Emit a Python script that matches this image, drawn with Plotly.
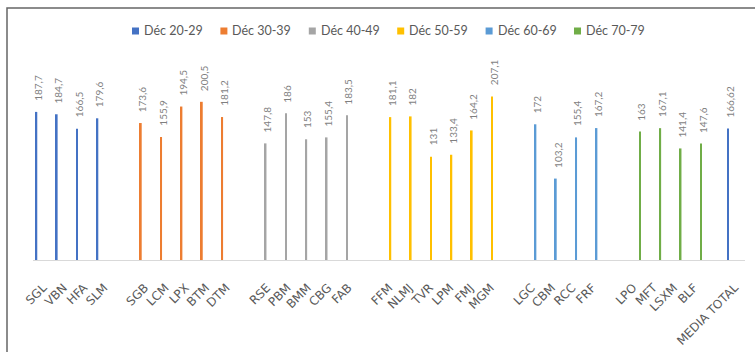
import plotly.graph_objects as go

# Heights by decade group (cm)
cats_20 = ["SGL", "VBN", "HFA", "SLM"]
vals_20 = [187.7, 184.7, 166.5, 179.6]
cats_30 = ["SGB", "LCM", "LPX", "BTM", "DTM"]
vals_30 = [173.6, 155.9, 194.5, 200.5, 181.2]
cats_40 = ["RSE", "PBM", "BMM", "CBG", "FAB"]
vals_40 = [147.8, 186, 153, 155.4, 183.5]
cats_50 = ["FFM", "NLMJ", "TVR", "LPM", "FMJ", "MGM"]
vals_50 = [181.1, 182, 131, 133.4, 164.2, 207.1]
cats_60 = ["LGC", "CBM", "RCC", "FRF"]
vals_60 = [172, 103.2, 155.4, 167.2]
cats_70 = ["LPO", "MFT", "LSXM", "BLF"]
vals_70 = [163, 167.1, 141.4, 147.6]
total_cat = "MEDIA TOTAL"
total_val = 166.62

series_names = ["Déc 20-29", "Déc 30-39", "Déc 40-49", "Déc 50-59", "Déc 60-69", "Déc 70-79"]
series_colors = ["#4472C4", "#ED7D31", "#A5A5A5", "#FFC000", "#5B9BD5", "#70AD47"]

groups_cats = [cats_20 + [total_cat], cats_30, cats_40, cats_50, cats_60, cats_70]
groups_vals = [vals_20 + [total_val], vals_30, vals_40, vals_50, vals_60, vals_70]

# Category order with an empty slot between decades
order = []
blocks = [cats_20, cats_30, cats_40, cats_50, cats_60, cats_70]
for i, b in enumerate(blocks):
    order += b
    order.append(" " * (i + 1))
order.append(total_cat)

FONT = "Lato"
L, R, T, B = 33, 10, 63, 92
W, H = 755, 352
pw, ph = W - L - R, H - T - B
BARGAP = 0.2
n_series = len(series_names)
slot = pw / len(order) * (1 - BARGAP) / n_series  # px per series slot


def fmt(v):
    return f"{v:g}".replace(".", ",")


def px_x(px):
    return (px - L) / pw


def px_y(py):
    return (H - B - py) / ph


fig = go.Figure()
annotations = []
for k, (name, color, cx, cy) in enumerate(zip(series_names, series_colors, groups_cats, groups_vals)):
    fig.add_trace(go.Bar(
        x=cx, y=cy, name=name, showlegend=False, offsetgroup=str(k),
        marker=dict(color=color, line=dict(width=0)),
    ))
    # value labels, rotated, above each bar
    for c, v in zip(cx, cy):
        annotations.append(dict(
            x=c, y=v, xref="x", yref="y", text=fmt(v), showarrow=False,
            textangle=-90, xanchor="center", yanchor="bottom",
            xshift=(k - (n_series - 1) / 2) * slot + 1.5, yshift=9,
            font=dict(family=FONT, size=10, color="#7f7f7f"),
        ))

# legend row: colour key + label for each decade
legend_left, legend_pitch, legend_y, key = 132, 88.4, 31, 7
shapes = []
for i, (name, color) in enumerate(zip(series_names, series_colors)):
    x0 = legend_left + i * legend_pitch
    shapes.append(dict(
        type="rect", xref="paper", yref="paper",
        x0=px_x(x0), x1=px_x(x0 + key),
        y0=px_y(legend_y + key / 2), y1=px_y(legend_y - key / 2),
        fillcolor=color, line=dict(width=0),
    ))
    annotations.append(dict(
        x=px_x(x0 + key + 3), y=px_y(legend_y), xref="paper", yref="paper",
        text=name, showarrow=False, xanchor="left", yanchor="middle",
        font=dict(family=FONT, size=12.5, color="#595959"),
    ))

# chart frame
shapes.append(dict(
    type="rect", xref="paper", yref="paper",
    x0=px_x(7), x1=1.2, y0=-1.0, y1=px_y(8),
    line=dict(color="#666666", width=1.5), layer="below",
))

fig.update_layout(
    width=W, height=H,
    margin=dict(l=L, r=R, t=T, b=B, pad=0, autoexpand=False),
    paper_bgcolor="white", plot_bgcolor="white",
    barmode="group", bargap=BARGAP, bargroupgap=0.35,
    font=dict(family=FONT, color="#595959"),
    showlegend=False,
    xaxis=dict(
        type="category", categoryorder="array", categoryarray=order,
        tickangle=-45, showgrid=False, showline=True, linecolor="#D9D9D9",
        linewidth=1, ticks="", ticklabelstandoff=15, automargin=False,
        tickfont=dict(family="DejaVu Sans", size=12, color="#595959"),
        range=[-0.5, len(order) - 0.5],
    ),
    yaxis=dict(visible=False, range=[0, ph / 0.789], showgrid=False, automargin=False),
    shapes=shapes,
    annotations=annotations,
)

fig.write_html("out.html")
